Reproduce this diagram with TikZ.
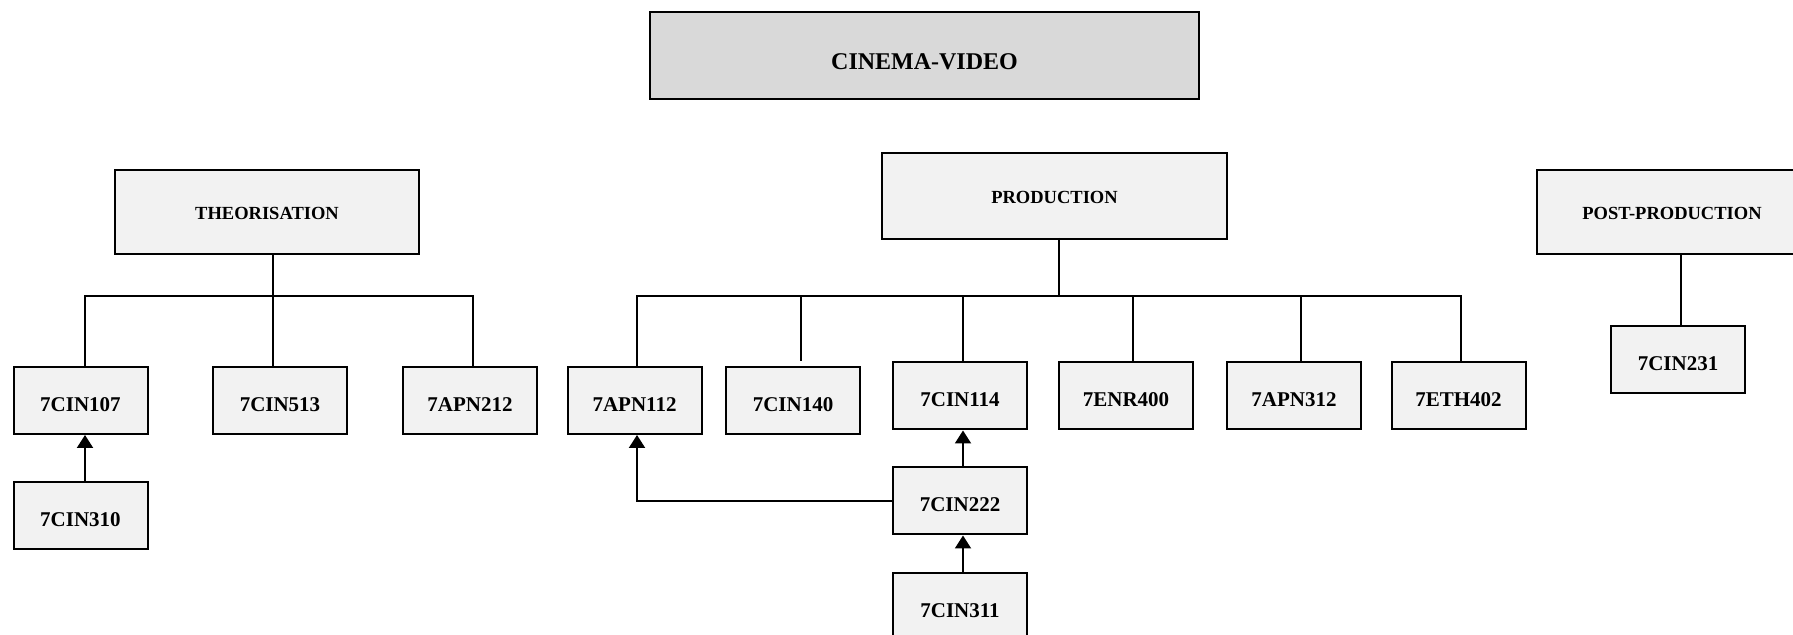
\documentclass[tikz,border=0pt]{standalone}
\usepackage{fontspec}
\setmainfont{Liberation Serif}
\usetikzlibrary{arrows.meta}
\definecolor{boxgray}{HTML}{F2F2F2}
\definecolor{topgray}{HTML}{D9D9D9}
\begin{document}
\begin{tikzpicture}[x=0.5pt,y=-0.5pt,
  basebox/.style={draw=black, line width=1pt, fill=boxgray, inner sep=0pt, align=center, text depth=0pt},
  codebox/.style={basebox, minimum width=67pt, minimum height=33.5pt, text height=10.9pt, font=\fontsize{10.5}{12}\selectfont\bfseries},
  secbox/.style={basebox, minimum height=42pt, text height=7.6pt, font=\fontsize{9.25}{11}\selectfont\bfseries},
  topbox/.style={basebox, fill=topgray, minimum width=274.5pt, minimum height=43.5pt, text height=13.6pt, font=\fontsize{12}{14}\selectfont\bfseries},
  conn/.style={draw=black, line width=1pt},
  arr/.style={conn, -{Triangle[length=6.5pt,width=8pt]}}
]
\fill[white] (0,0) rectangle (1793,635);
\useasboundingbox (0,0) rectangle (1793,635);

% top
\node[topbox] (cv) at (924.5,55.5) {CINEMA-VIDEO};

% sections
\node[secbox, minimum width=152pt] (theo) at (267,212) {THEORISATION};
\node[secbox, minimum width=172.5pt, minimum height=43pt] (prod) at (1054.5,196) {PRODUCTION};
\node[secbox, minimum width=135pt] (post) at (1672,212) {POST-PRODUCTION};

% theorisation courses
\node[codebox] (c107) at (80.5,400.5) {7CIN107};
\node[codebox] (c513) at (280,400.5) {7CIN513};
\node[codebox] (a212) at (470,400.5) {7APN212};
\node[codebox] (c310) at (80.5,515.5) {7CIN310};

% production courses
\node[codebox] (a112) at (634.5,400.5) {7APN112};
\node[codebox] (c140) at (793,400.5) {7CIN140};
\node[codebox] (c114) at (960,396) {7CIN114};
\node[codebox] (e400) at (1126,396) {7ENR400};
\node[codebox] (a312) at (1294,396) {7APN312};
\node[codebox] (eth) at (1458.5,396) {7ETH402};
\node[codebox] (c222) at (960,501) {7CIN222};
\node[codebox] (c311) at (960,606.5) {7CIN311};

% post-production course
\node[codebox] (c231) at (1678,359.5) {7CIN231};

% bus coordinates
\coordinate (t1) at (85,296);
\coordinate (t2) at (273,296);
\coordinate (t3) at (473,296);
\coordinate (p0) at (1059,296);
\coordinate (p1) at (637,296);
\coordinate (p2) at (801,296);
\coordinate (p3) at (963,296);
\coordinate (p4) at (1133,296);
\coordinate (p5) at (1301,296);
\coordinate (p6) at (1461,296);
\coordinate (q1) at (1681,296);

% theorisation tree
\draw[conn] (theo.south -| t2) -- (c513.north -| t2);
\draw[conn] (c107.north -| t1) -- (t1) -- (t3) -- (a212.north -| t3);
\draw[arr] (c310.north -| t1) -- (c107.south -| t1);

% production tree
\draw[conn] ([yshift=1pt]prod.south -| p0) -- (p0);
\draw[conn] (a112.north -| p1) -- (p1) -- (p6) -- (eth.north -| p6);
\draw[conn] (p2) -- (c114.north -| p2);
\draw[conn] (p3) -- (c114.north -| p3);
\draw[conn] (p4) -- (e400.north -| p4);
\draw[conn] (p5) -- (a312.north -| p5);
\draw[arr] (c222.north -| p3) -- (c114.south -| p3);
\draw[arr] (c311.north -| p3) -- (c222.south -| p3);
\draw[arr] (c222.west) -| (a112.south -| p1);

% post-production tree
\draw[conn] (post.south -| q1) -- (c231.north -| q1);
\end{tikzpicture}
\end{document}
